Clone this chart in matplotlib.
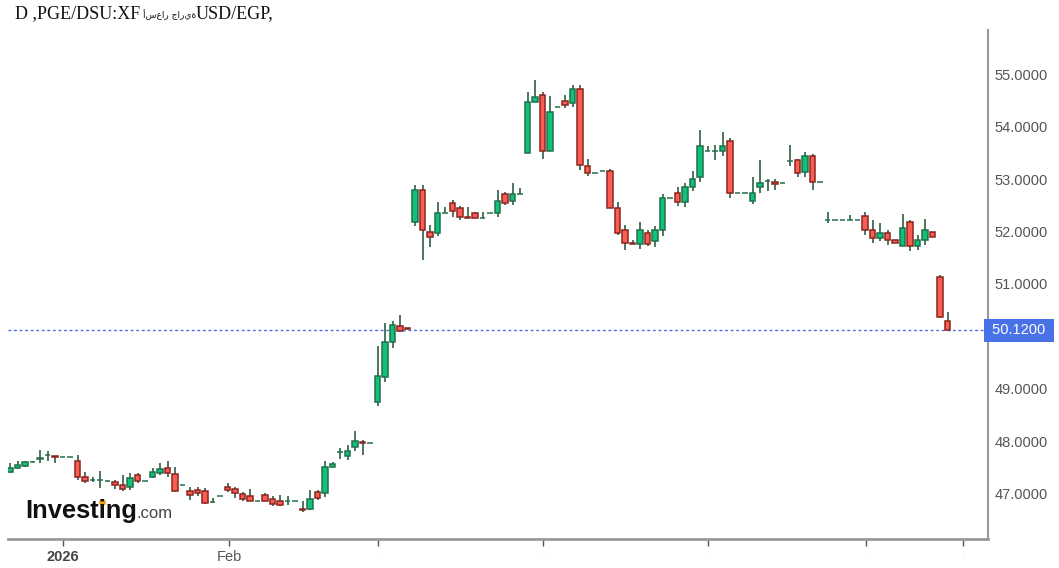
import numpy as np
import matplotlib.pyplot as plt
import matplotlib.transforms as mtransforms
from matplotlib.lines import Line2D

# daily candles, USD/EGP
opens = [47.42, 47.49, 47.54, 47.61, 47.67, 47.74, 47.73, 47.71, 47.71, 47.62,
         47.33, 47.27, 47.27, 47.24, 47.22, 47.17, 47.13, 47.36, 47.25, 47.32,
         47.40, 47.50, 47.38, 47.16, 47.06, 47.08, 47.06, 46.84, 46.95, 47.14,
         47.09, 47.00, 46.95, 46.87, 46.98, 46.90, 46.87, 46.86, 46.86, 46.72,
         46.71, 47.03, 47.01, 47.52, 47.79, 47.72, 47.89, 47.99, 47.97, 48.75,
         49.22, 49.89, 50.19, 50.17, 52.19, 52.80, 51.99, 51.97, 52.35, 52.54,
         52.44, 52.28, 52.35, 52.26, 52.35, 52.35, 52.71, 52.59, 52.71, 53.49,
         54.46, 54.61, 53.53, 54.38, 54.49, 54.44, 54.71, 53.24, 53.12, 53.16,
         53.16, 52.44, 52.02, 51.79, 51.76, 51.97, 51.81, 52.02, 52.645, 52.73,
         52.56, 52.84, 53.03, 53.54, 53.54, 53.54, 53.73, 52.73, 52.73, 52.59,
         52.84, 52.97, 52.95, 52.93, 53.34, 53.36, 53.14, 53.44, 52.95, 52.22,
         52.22, 52.22, 52.22, 52.22, 52.30, 52.02, 51.87, 51.97, 51.83, 51.72,
         52.19, 51.72, 51.83, 51.99, 51.14, 50.30]
highs = [47.59, 47.63, 47.63, 47.62, 47.84, 47.82, 47.73, 47.71, 47.71, 47.74,
         47.41, 47.32, 47.43, 47.25, 47.27, 47.36, 47.39, 47.39, 47.25, 47.49,
         47.58, 47.62, 47.52, 47.16, 47.14, 47.14, 47.11, 46.92, 46.95, 47.21,
         47.14, 47.04, 47.09, 46.87, 47.01, 46.95, 46.98, 46.95, 46.86, 46.86,
         47.08, 47.08, 47.63, 47.60, 47.87, 47.93, 48.19, 48.03, 47.97, 49.81,
         50.26, 50.30, 50.41, 50.17, 52.89, 52.89, 52.12, 52.57, 52.47, 52.60,
         52.49, 52.46, 52.37, 52.38, 52.35, 52.79, 52.76, 52.93, 52.83, 54.66,
         54.89, 54.66, 54.58, 54.38, 54.60, 54.79, 54.79, 53.38, 53.12, 53.16,
         53.19, 52.57, 52.12, 51.83, 52.19, 52.03, 52.11, 52.71, 52.645, 52.84,
         52.93, 53.15, 53.93, 53.63, 53.65, 53.90, 53.79, 52.73, 52.73, 53.04,
         53.36, 53.01, 53.01, 52.93, 53.65, 53.39, 53.52, 53.48, 52.95, 52.38,
         52.22, 52.22, 52.31, 52.22, 52.38, 52.22, 52.17, 52.03, 51.83, 52.33,
         52.22, 51.93, 52.24, 51.99, 51.17, 50.47]
lows = [47.40, 47.47, 47.52, 47.60, 47.58, 47.62, 47.58, 47.71, 47.71, 47.27,
        47.20, 47.23, 47.11, 47.22, 47.09, 47.06, 47.08, 47.20, 47.25, 47.30,
        47.36, 47.33, 47.04, 47.16, 46.89, 46.96, 46.81, 46.83, 46.95, 47.04,
        46.92, 46.86, 46.86, 46.87, 46.86, 46.77, 46.77, 46.79, 46.86, 46.66,
        46.70, 46.89, 46.94, 47.52, 47.66, 47.65, 47.81, 47.74, 47.97, 48.68,
        49.14, 49.78, 50.08, 50.15, 52.10, 51.46, 51.71, 51.91, 52.35, 52.28,
        52.22, 52.25, 52.25, 52.26, 52.35, 52.27, 52.50, 52.50, 52.71, 53.49,
        54.46, 53.38, 53.53, 54.38, 54.35, 54.38, 53.17, 53.06, 53.12, 53.16,
        52.44, 51.93, 51.65, 51.76, 51.66, 51.73, 51.71, 51.91, 52.645, 52.49,
        52.47, 52.77, 52.95, 53.54, 53.36, 53.44, 52.63, 52.73, 52.73, 52.52,
        52.73, 52.78, 52.79, 52.93, 53.25, 53.03, 53.04, 52.79, 52.95, 52.17,
        52.22, 52.22, 52.22, 52.22, 51.93, 51.78, 51.81, 51.74, 51.78, 51.72,
        51.62, 51.65, 51.74, 51.89, 50.35, 50.12]
closes = [47.50, 47.55, 47.60, 47.61, 47.69, 47.75, 47.71, 47.71, 47.71, 47.32,
          47.25, 47.27, 47.27, 47.24, 47.16, 47.10, 47.30, 47.25, 47.25, 47.41,
          47.47, 47.39, 47.06, 47.16, 46.97, 47.01, 46.82, 46.84, 46.95, 47.08,
          47.01, 46.90, 46.87, 46.87, 46.87, 46.81, 46.79, 46.86, 46.86, 46.70,
          46.90, 46.92, 47.51, 47.57, 47.79, 47.81, 48.00, 47.97, 47.97, 49.24,
          49.90, 50.21, 50.10, 50.15, 52.80, 52.02, 51.90, 52.35, 52.35, 52.40,
          52.28, 52.25, 52.25, 52.26, 52.35, 52.59, 52.54, 52.71, 52.71, 54.47,
          54.57, 53.53, 54.28, 54.38, 54.41, 54.71, 53.27, 53.11, 53.12, 53.16,
          52.44, 51.97, 51.78, 51.76, 52.02, 51.76, 52.02, 52.63, 52.645, 52.56,
          52.85, 53.01, 53.63, 53.54, 53.54, 53.63, 52.73, 52.73, 52.73, 52.73,
          52.92, 52.97, 52.90, 52.93, 53.34, 53.11, 53.44, 52.95, 52.95, 52.22,
          52.22, 52.22, 52.22, 52.22, 52.03, 51.87, 51.97, 51.83, 51.78, 52.06,
          51.72, 51.83, 52.02, 51.89, 50.37, 50.12]

# x axis: candle index where each month starts
tick_pos = [7.07, 29.2, 49.07, 71.07, 93.07, 114.13, 127.07]
tick_labels = ["2026", "Feb", ".", ".", ".", ".", "."]
y_ticks = [47, 48, 49, 50, 51, 52, 53, 54, 55]

title_parts = ["D ,PGE/DSU:XF", "أسعار جارية", "USD/EGP,"]

o = np.array(opens)
h = np.array(highs)
l = np.array(lows)
c = np.array(closes)
x = np.arange(len(o))
up = c >= o

fig = plt.figure(figsize=(10.59, 5.68), dpi=100)
ax = fig.add_axes([8 / 1059, 29 / 568, 980 / 1059, 509 / 568])

# wicks
ax.vlines(x, l, h, color="#3d6b52", linewidth=1.3, zorder=2)

# bodies
bottom = np.minimum(o, c)
height = np.abs(c - o)
ax.bar(x[up], height[up], bottom=bottom[up], width=0.72,
       color="#0fc27a", edgecolor="#22704a", linewidth=1.1, zorder=3)
ax.bar(x[~up], height[~up], bottom=bottom[~up], width=0.72,
       color="#fb5d52", edgecolor="#8a2520", linewidth=1.1, zorder=3)

# last price line
last = c[-1]
ax.axhline(last, color="#4a6ee0", linewidth=1, linestyle=(0, (2, 2)), zorder=1)

ax.set_xlim(-0.27, 130.4)
ax.set_ylim(46.14, 55.84)

# y axis on the right
ax.yaxis.tick_right()
ax.set_yticks(y_ticks)
ax.set_yticklabels([f"{v:.4f}" for v in y_ticks])
ax.tick_params(axis="y", length=0, pad=5, labelsize=10.5, labelcolor="#555555")
for lab in ax.get_yticklabels():
    lab.set_family("Liberation Sans")

# x axis
ax.set_xticks(tick_pos)
ax.set_xticklabels(tick_labels)
ax.tick_params(axis="x", length=5, width=1, color="#555555", pad=3,
               labelsize=10.5, labelcolor="#555555")
for i, lab in enumerate(ax.get_xticklabels()):
    lab.set_family("Liberation Sans")
    if i == 0:
        lab.set_fontweight("bold")
        lab.set_color("#444444")
    elif i > 1:
        lab.set_fontsize(5)
        lab.set_color("#bbbbbb")

for side in ["top", "left"]:
    ax.spines[side].set_visible(False)
ax.spines["right"].set_color("#999999")
ax.spines["right"].set_linewidth(1.5)
ax.spines["bottom"].set_color("#999999")
ax.spines["bottom"].set_linewidth(2)

# price tag on the right axis
trans = mtransforms.blended_transform_factory(ax.transAxes, ax.transData)
ax.text(1.0, last, " 50.1200 ", transform=trans, ha="left", va="center",
        fontsize=10.5, color="white", family="Liberation Sans", zorder=5,
        bbox=dict(boxstyle="square,pad=0.3", facecolor="#4a72e8",
                  edgecolor="none"), clip_on=False)

# title (latin parts serif, arabic part smaller)
base = 1 - 18 / 568
fig.text(15 / 1059, base, title_parts[0], fontsize=13, family="Liberation Serif",
         color="#111111", ha="left", va="baseline")
fig.text(143 / 1059, base, title_parts[1], fontsize=6.5, family="DejaVu Sans",
         color="#111111", ha="left", va="baseline")
fig.text(196 / 1059, base, title_parts[2], fontsize=13, family="Liberation Serif",
         color="#111111", ha="left", va="baseline")

# watermark logo
fig.text(25 / 1059, 1 - 518 / 568, "Investing", fontsize=18.4, fontweight="bold",
         family="Liberation Sans", color="#111111", ha="left", va="baseline")
fig.text(137 / 1059, 1 - 518 / 568, ".com", fontsize=12,
         family="Liberation Sans", color="#444444", ha="left", va="baseline")
fig.add_artist(Line2D([102 / 1059], [1 - 502 / 568], marker="o", markersize=4,
                      color="#f7a21b", transform=fig.transFigure))

fig.savefig("out.png", dpi=100)
